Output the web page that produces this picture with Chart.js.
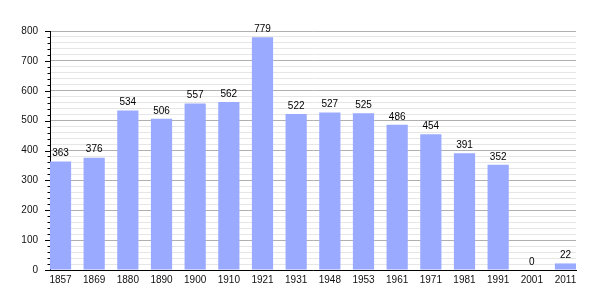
<!DOCTYPE html>
<html><head><meta charset="utf-8">
<script src="https://cdn.jsdelivr.net/npm/chart.js@4.4.0/dist/chart.umd.min.js"></script>
<style>html,body{margin:0;padding:0;background:#fff}</style>
</head><body>
<canvas id="c" width="605" height="300"></canvas>
<script>
const categories = ['1857','1869','1880','1890','1900','1910','1921','1931','1948','1953','1961','1971','1981','1991','2001','2011'];
const values = [363,376,534,506,557,562,779,522,527,525,486,454,391,352,0,22];
const yMin = 0, yMax = 800, yMinorStep = 20, yMajorStep = 100;

const FONT = {family: '"Liberation Sans", Arial, sans-serif', size: 10};

const tickMarks = {
  id: 'tickMarks',
  afterDraw(chart) {
    const y = chart.scales.y, ctx = chart.ctx;
    ctx.save();
    ctx.strokeStyle = '#000';
    ctx.lineWidth = 1;
    y.ticks.forEach(t => {
      const py = Math.round(y.getPixelForValue(t.value)) + 0.5;
      const len = t.value % yMajorStep === 0 ? 5 : 2.5;
      ctx.beginPath();
      ctx.moveTo(y.right - len, py);
      ctx.lineTo(y.right, py);
      ctx.stroke();
    });
    ctx.restore();
  }
};

const valueLabels = {
  id: 'valueLabels',
  afterDatasetsDraw(chart) {
    const ctx = chart.ctx, meta = chart.getDatasetMeta(0);
    ctx.save();
    ctx.fillStyle = '#000';
    ctx.font = '10px "Liberation Sans", Arial, sans-serif';
    ctx.textAlign = 'center';
    ctx.textBaseline = 'middle';
    meta.data.forEach((bar, i) => {
      ctx.fillText(String(values[i]), bar.x, bar.y - 8);
    });
    ctx.restore();
  }
};

new Chart(document.getElementById('c'), {
  type: 'bar',
  data: {
    datasets: [{
      data: values.map((v, i) => ({x: i, y: v})),
      backgroundColor: '#99aaff',
      borderWidth: 0,
      barPercentage: 0.63,
      categoryPercentage: 1
    }]
  },
  options: {
    responsive: false,
    animation: false,
    layout: {padding: {top: 31, right: 29, left: 0, bottom: 0}},
    plugins: {legend: {display: false}, tooltip: {enabled: false}},
    scales: {
      x: {
        type: 'linear',
        offset: false,
        min: -0.312,
        max: categories.length - 1 + 0.312,
        afterBuildTicks: s => { s.ticks = categories.map((c, i) => ({value: i})); },
        afterFit: s => { s.height = 30; },
        ticks: {
          callback: v => categories[v],
          autoSkip: false, maxRotation: 0, minRotation: 0,
          color: '#111', font: FONT, padding: 4
        },
        grid: {display: false, drawTicks: false},
        border: {display: true, color: '#000', width: 1}
      },
      y: {
        min: yMin, max: yMax,
        afterFit: s => { s.width = 50; },
        ticks: {
          stepSize: yMinorStep,
          autoSkip: false,
          callback: v => (v % yMajorStep === 0 ? String(v) : ''),
          color: '#111', font: FONT, padding: 12
        },
        grid: {
          drawTicks: false,
          color: ctx => (ctx.tick && ctx.tick.value % yMajorStep === 0 ? '#b0b0b0' : '#e6e6e6'),
          lineWidth: 1
        },
        border: {display: true, color: '#000', width: 1}
      }
    }
  },
  plugins: [tickMarks, valueLabels]
});
</script>
</body></html>
